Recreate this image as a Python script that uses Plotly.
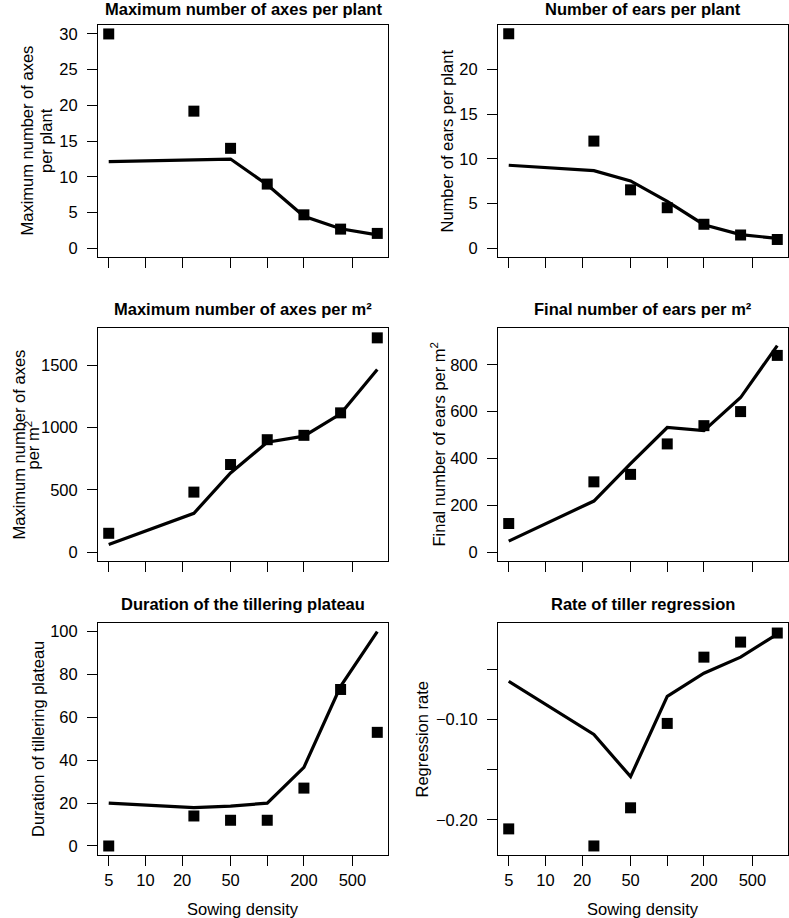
import plotly.graph_objects as go
import math

W, H = 789, 918

density = [5, 25, 50, 100, 200, 400, 800]

axes_plant_obs = [30, 19.2, 14.0, 9.0, 4.7, 2.7, 2.1]
axes_plant_sim = [12.15, 12.35, 12.5, 8.9, 4.5, 2.75, 1.9]

ears_plant_obs = [24.0, 12.0, 6.55, 4.55, 2.7, 1.5, 1.0]
ears_plant_sim = [9.3, 8.7, 7.55, 5.25, 2.65, 1.55, 1.12]

axes_m2_obs = [152, 482, 703, 902, 937, 1117, 1718]
axes_m2_sim = [62, 312, 635, 882, 930, 1110, 1465]

ears_m2_obs = [122, 300, 332, 462, 540, 600, 840]
ears_m2_sim = [47, 218, 378, 532, 519, 660, 882]

plateau_obs = [0, 14, 12, 12, 27, 73, 53]
plateau_sim = [20, 17.9, 18.6, 20, 36.7, 74.5, 100]

regr_obs = [-0.209, -0.226, -0.188, -0.104, -0.038, -0.023, -0.014]
regr_sim = [-0.062, -0.115, -0.157, -0.077, -0.054, -0.038, -0.015]

titles = ["Maximum number of axes per plant", "Number of ears per plant",
          "Maximum number of axes per m²", "Final number of ears per m²",
          "Duration of the tillering plateau", "Rate of tiller regression"]

x_tickvals = [5, 10, 20, 50, 100, 200, 500]
x_ticktext = ["5", "10", "20", "50", "", "200", "500"]
x_label = "Sowing density"

FONT = "Liberation Sans, Arial, Helvetica, sans-serif"
FS = 16.5

# pixel boxes (left, right, top, bottom)
cols = [(98, 388), (498, 788)]
rows = [(25, 257), (328, 561), (623, 855)]

panels = [
    (axes_plant_obs, axes_plant_sim, [-1.2, 31.25], dict(tickvals=[0, 5, 10, 15, 20, 25, 30])),
    (ears_plant_obs, ears_plant_sim, [-0.96, 24.98], dict(tickvals=[0, 5, 10, 15, 20])),
    (axes_m2_obs, axes_m2_sim, [-70, 1797], dict(tickvals=[0, 500, 1000, 1500])),
    (ears_m2_obs, ears_m2_sim, [-38, 957], dict(tickvals=[0, 200, 400, 600, 800])),
    (plateau_obs, plateau_sim, [-4.2, 104], dict(tickvals=[0, 20, 40, 60, 80, 100])),
    (regr_obs, regr_sim, [-0.235, -0.004], dict(tickvals=[-0.20, -0.15, -0.10, -0.05],
                                                 ticktext=["\u22120.20", " ", "\u22120.10", " "])),
]

xr = [math.log10(5) - 0.088, math.log10(800) + 0.088]

fig = go.Figure()
layout = dict(width=W, height=H, margin=dict(l=0, r=0, t=0, b=0),
              paper_bgcolor="white", plot_bgcolor="white", showlegend=False,
              font=dict(family=FONT, size=FS, color="black"))
annotations = []

for i, (obs, sim, yr, yt) in enumerate(panels):
    r, c = divmod(i, 2)
    xl, xrr = cols[c]
    yt_px, yb_px = rows[r]
    n = i + 1
    xa = f"x{n}" if n > 1 else "x"
    ya = f"y{n}" if n > 1 else "y"
    xkey = f"xaxis{n}" if n > 1 else "xaxis"
    ykey = f"yaxis{n}" if n > 1 else "yaxis"
    bottom = (r == 2)
    layout[xkey] = dict(domain=[xl / W, xrr / W], anchor=ya, type="log", range=xr,
                        tickvals=x_tickvals, ticktext=x_ticktext if bottom else None,
                        showticklabels=bottom, ticks="outside", ticklen=10, tickwidth=1,
                        tickcolor="black", showline=True, mirror=True, linecolor="black",
                        linewidth=1, showgrid=False, zeroline=False,
                        tickfont=dict(size=FS))
    ydict = dict(domain=[1 - yb_px / H, 1 - yt_px / H], anchor=xa, range=yr,
                 ticks="outside", ticklen=10, tickwidth=1, tickcolor="black",
                 showline=True, mirror=True, linecolor="black", linewidth=1,
                 showgrid=False, zeroline=False, tickfont=dict(size=FS),
                 ticklabelposition="outside", ticklabelstandoff=6)
    ydict.update(yt)
    layout[ykey] = ydict

    fig.add_trace(go.Scatter(x=density, y=sim, mode="lines", xaxis=xa, yaxis=ya,
                             line=dict(color="black", width=3.2), hoverinfo="skip"))
    fig.add_trace(go.Scatter(x=density, y=obs, mode="markers", xaxis=xa, yaxis=ya,
                             marker=dict(symbol="square", size=11, color="black",
                                         line=dict(width=0)), hoverinfo="skip"))

    ty = yt_px - (16 if r == 0 else 19)
    annotations.append(dict(text=f"<b>{titles[i]}</b>", x=(xl + xrr) / 2 / W, y=1 - ty / H,
                            xref="paper", yref="paper", xanchor="center", yanchor="middle",
                            showarrow=False, font=dict(size=FS)))
    if bottom:
        annotations.append(dict(text=x_label, x=(xl + xrr) / 2 / W, y=1 - 909 / H,
                                xref="paper", yref="paper", xanchor="center", yanchor="middle",
                                showarrow=False, font=dict(size=FS)))

ylabels = [
    ("Maximum number of axes", 26.5, 141), ("per plant", 46, 141),
    ("Number of ears per plant", 446.5, 141),
    ("Maximum number of axes", 18, 444.5), ("per m<sup>2</sup>", 32, 444.5),
    ("Final number of ears per m<sup>2</sup>", 438, 444.5),
    ("Duration of tillering plateau", 38, 739),
    ("Regression rate", 421.5, 739),
]
for txt, px, py in ylabels:
    annotations.append(dict(text=txt, x=px / W, y=1 - py / H, xref="paper", yref="paper",
                            xanchor="center", yanchor="middle", textangle=-90,
                            showarrow=False, font=dict(size=FS)))

layout["annotations"] = annotations
fig.update_layout(**layout)
fig.write_html("out.html", config={"displayModeBar": False, "staticPlot": True})

with open("out.html", "r", encoding="utf-8") as f:
    html = f.read()
html = html.replace("<head>", "<head><style>html,body{margin:0;padding:0;overflow:hidden;}</style>", 1)
with open("out.html", "w", encoding="utf-8") as f:
    f.write(html)
